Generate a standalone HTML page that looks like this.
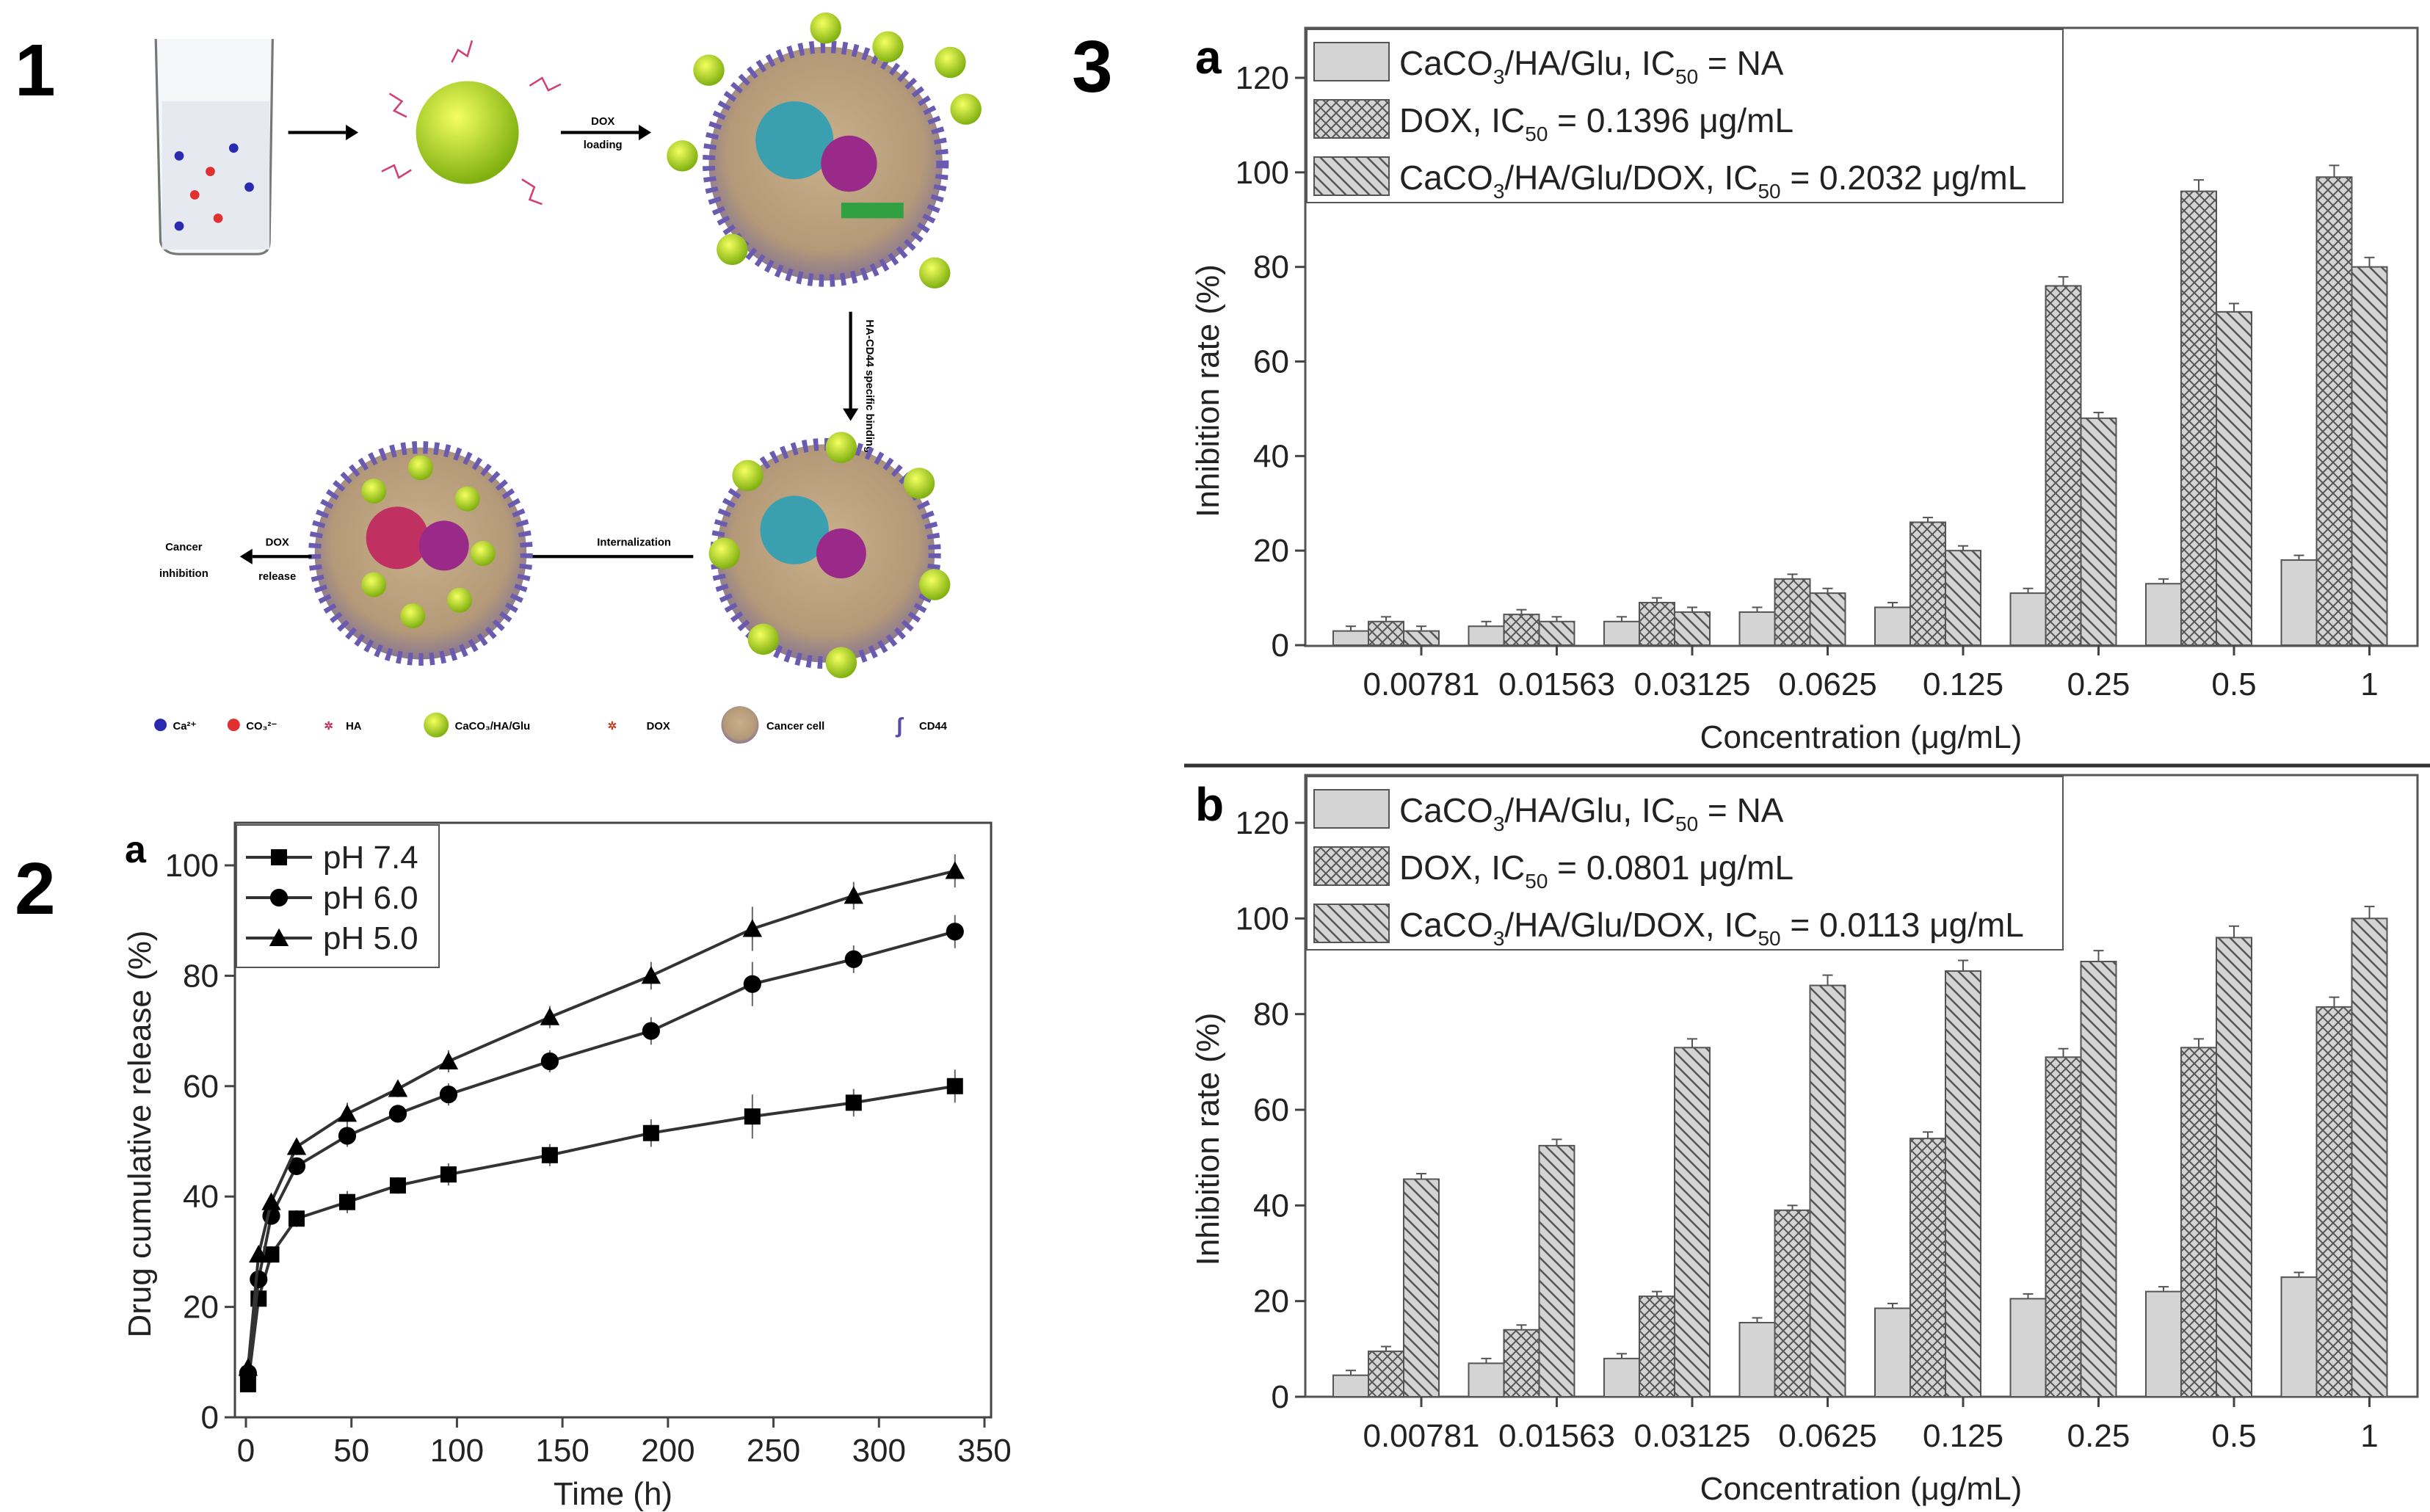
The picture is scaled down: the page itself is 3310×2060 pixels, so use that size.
<!DOCTYPE html>
<html><head><meta charset="utf-8"><style>
html,body{margin:0;padding:0;background:#fff;}
svg{display:block;font-family:"Liberation Sans",Arial,sans-serif;}
</style></head><body>
<svg id="root" width="3310" height="2060" viewBox="0 0 3310 2060" xmlns="http://www.w3.org/2000/svg">
<defs>
<pattern id="cross" width="14" height="14" patternUnits="userSpaceOnUse">
<rect width="14" height="14" fill="#d4d4d4"/>
<path d="M0 0L14 14M14 0L0 14" stroke="#555" stroke-width="2"/>
</pattern>
<pattern id="diag" width="16" height="16" patternUnits="userSpaceOnUse">
<rect width="16" height="16" fill="#d4d4d4"/>
<path d="M-4 -4L20 20M-4 12L4 20M12 -4L20 4" stroke="#555" stroke-width="2.5"/>
</pattern>
<radialGradient id="gball" cx="40%" cy="35%" r="65%"><stop offset="0" stop-color="#f4ff60"/><stop offset="1" stop-color="#7fb010"/></radialGradient>
<radialGradient id="cell" cx="50%" cy="45%" r="60%"><stop offset="0" stop-color="#c9b08a"/><stop offset="0.7" stop-color="#b49a78"/><stop offset="1" stop-color="#7a6a9a"/></radialGradient>
</defs>

<text x="20" y="130" font-size="100" font-weight="bold">1</text>
<text x="20" y="1245" font-size="100" font-weight="bold">2</text>
<text x="1460" y="125" font-size="100" font-weight="bold">3</text>

<g transform="scale(2.122,2.124)">
  <g>
    <path d="M100 25 L103 155 Q105 163 115 163 L165 163 Q173 163 173 155 L175 25" fill="#f4f6f8" stroke="#777" stroke-width="1.5"/>
    <rect x="104" y="65" width="69" height="95" fill="#e6eaf0"/>
    <circle cx="115" cy="100" r="3" fill="#2a2ab0"/><circle cx="135" cy="110" r="3" fill="#e03030"/><circle cx="150" cy="95" r="3" fill="#2a2ab0"/><circle cx="125" cy="125" r="3" fill="#e03030"/><circle cx="160" cy="120" r="3" fill="#2a2ab0"/><circle cx="140" cy="140" r="3" fill="#e03030"/><circle cx="115" cy="145" r="3" fill="#2a2ab0"/>
  </g>
  <path d="M185 85 L222 85" stroke="#000" stroke-width="2"/><path d="M222 80 L230 85 L222 90Z"/>
  <circle cx="300" cy="85" r="33" fill="url(#gball)"/>
  <g stroke="#d04070" stroke-width="1.2" fill="none"><path d="M250 60 l8 5 l-5 6 l8 4"/><path d="M340 55 l8 -5 l4 8 l8 -4"/><path d="M245 110 l8 -4 l3 8 l8 -5"/><path d="M335 115 l8 5 l-3 8 l8 3"/><path d="M290 40 l4 -8 l6 4 l3 -10"/></g>
  <text x="387" y="80" font-size="7" font-weight="bold" text-anchor="middle">DOX</text>
  <path d="M360 85 L410 85" stroke="#000" stroke-width="2"/><path d="M410 80 L418 85 L410 90Z"/>
  <text x="387" y="95" font-size="7" font-weight="bold" text-anchor="middle">loading</text>
  <circle cx="530" cy="105" r="75" fill="url(#cell)" stroke="#6a5ab0" stroke-width="8" stroke-dasharray="3 4"/>
  <circle cx="510" cy="90" r="25" fill="#3aa0b0"/><circle cx="545" cy="105" r="18" fill="#9a2a8a"/><rect x="540" y="130" width="40" height="10" fill="#30a040"/>
  <g fill="url(#gball)"><circle cx="438" cy="100" r="10"/><circle cx="455" cy="45" r="10"/><circle cx="470" cy="160" r="10"/><circle cx="530" cy="18" r="10"/><circle cx="570" cy="30" r="10"/><circle cx="610" cy="40" r="10"/><circle cx="620" cy="70" r="10"/><circle cx="600" cy="175" r="10"/></g>
  <path d="M546 200 L546 262" stroke="#000" stroke-width="2"/><path d="M541 262 L546 270 L551 262Z"/>
  <text x="556" y="205" font-size="7" font-weight="bold" transform="rotate(90 556 205)">HA-CD44 specific binding</text>
  <circle cx="530" cy="355" r="70" fill="url(#cell)" stroke="#6a5ab0" stroke-width="8" stroke-dasharray="3 4"/>
  <circle cx="510" cy="340" r="22" fill="#3aa0b0"/><circle cx="540" cy="355" r="16" fill="#9a2a8a"/>
  <g fill="url(#gball)"><circle cx="465" cy="355" r="10"/><circle cx="480" cy="305" r="10"/><circle cx="540" cy="287" r="10"/><circle cx="590" cy="310" r="10"/><circle cx="600" cy="375" r="10"/><circle cx="540" cy="425" r="10"/><circle cx="490" cy="410" r="10"/></g>
  <text x="407" y="350" font-size="7" font-weight="bold" text-anchor="middle">Internalization</text>
  <path d="M445 357 L307 357" stroke="#000" stroke-width="2"/><path d="M307 352 L299 357 L307 362Z"/>
  <circle cx="270" cy="355" r="68" fill="url(#cell)" stroke="#6a5ab0" stroke-width="8" stroke-dasharray="3 4"/>
  <circle cx="255" cy="345" r="20" fill="#c03060"/><circle cx="285" cy="350" r="16" fill="#9a2a8a"/>
  <g fill="url(#gball)"><circle cx="240" cy="315" r="8"/><circle cx="300" cy="320" r="8"/><circle cx="240" cy="375" r="8"/><circle cx="295" cy="385" r="8"/><circle cx="270" cy="300" r="8"/><circle cx="310" cy="355" r="8"/><circle cx="265" cy="395" r="8"/></g>
  <text x="178" y="350" font-size="7" font-weight="bold" text-anchor="middle">DOX</text>
  <path d="M200 357 L162 357" stroke="#000" stroke-width="2"/><path d="M162 352 L154 357 L162 362Z"/>
  <text x="178" y="372" font-size="7" font-weight="bold" text-anchor="middle">release</text>
  <text x="118" y="353" font-size="7" font-weight="bold" text-anchor="middle">Cancer</text>
  <text x="118" y="370" font-size="7" font-weight="bold" text-anchor="middle">inhibition</text>
  <g font-size="7" font-weight="bold">
    <circle cx="103" cy="465" r="4" fill="#2a2ab0"/><text x="111" y="468">Ca²⁺</text>
    <circle cx="150" cy="465" r="4" fill="#e03030"/><text x="158" y="468">CO₃²⁻</text>
    <text x="208" y="468" fill="#c03060">✲</text><text x="222" y="468">HA</text>
    <circle cx="280" cy="465" r="8" fill="url(#gball)"/><text x="292" y="468">CaCO₃/HA/Glu</text>
    <text x="390" y="468" fill="#c04020">✲</text><text x="415" y="468">DOX</text>
    <circle cx="475" cy="465" r="12" fill="url(#cell)"/><text x="492" y="468">Cancer cell</text>
    <text x="575" y="470" fill="#5a4ab0" font-size="14">ʃ</text><text x="590" y="468">CD44</text>
  </g>
</g>

<line x1="1613" y1="1043" x2="3310" y2="1043" stroke="#333" stroke-width="5"/>

<g id="chart2"></g>
<g id="chart3a"></g>
<g id="chart3b"></g>
</svg>
<script>
const NS="http://www.w3.org/2000/svg";
const times=[1,6,12,24,48,72,96,144,192,240,288,336];
const ph74=[6,21.5,29.5,36,39,42,44,47.5,51.5,54.5,57,60];
const ph60=[8,25,36.5,45.5,51,55,58.5,64.5,70,78.5,83,88];
const ph50=[9,29.5,39,49,55,59.5,64.5,72.5,80,88.5,94.5,99];
const err2=[1,1.5,1.5,1.5,2,1.5,2,2,2.5,4,2.5,3];
const xTicks2=[0,50,100,150,200,250,300,350];
const yTicks2=[0,20,40,60,80,100];
const concLabels=["0.00781","0.01563","0.03125","0.0625","0.125","0.25","0.5","1"];
const aCaco=[3,4,5,7,8,11,13,18];
const aDox=[5,6.5,9,14,26,76,96,99];
const aCombo=[3,5,7,11,20,48,70.5,80];
const bCaco=[4.5,7,8,15.5,18.5,20.5,22,25];
const bDox=[9.5,14,21,39,54,71,73,81.5];
const bCombo=[45.5,52.5,73,86,89,91,96,100];
const yTicks3=[0,20,40,60,80,100,120];
const legA=["0.1396","0.2032"];
const legB=["0.0801","0.0113"];

function el(parent,tag,attrs,text){const e=document.createElementNS(NS,tag);for(const k in attrs)e.setAttribute(k,attrs[k]);if(text!==undefined)e.textContent=text;parent.appendChild(e);return e;}

(function(){
  const g=document.getElementById('chart2');
  const L=320,R=1350,T=1121,B=1931;
  const x=v=>335+(v/350)*(1341-335);
  const y=v=>1931-(v/100)*(1931-1179);
  const frame=el(g,'rect',{x:L,y:T,width:R-L,height:B-T,fill:'none',stroke:'#444','stroke-width':3});
  
  
  xTicks2.forEach(t=>{el(g,'line',{x1:x(t),y1:B,x2:x(t),y2:B+14,stroke:'#444','stroke-width':3});
    const tx=el(g,'text',{x:x(t),y:B+60,'font-size':44,'text-anchor':'middle',fill:'#222'},t);
    
    });
  yTicks2.forEach(t=>{el(g,'line',{x1:L-14,y1:y(t),x2:L,y2:y(t),stroke:'#444','stroke-width':3});
    const tx=el(g,'text',{x:L-22,y:y(t)+15,'font-size':44,'text-anchor':'end',fill:'#222'},t);
    
    });
  const xt=el(g,'text',{x:835,y:2050,'font-size':44,'text-anchor':'middle',fill:'#222'},'Time (h)');
  
  
  const yt=el(g,'text',{x:0,y:0,'font-size':44,'text-anchor':'middle',fill:'#222',transform:'translate(205 1545) rotate(-90)'},'Drug cumulative release (%)');
  
  
  const sub=el(g,'text',{x:170,y:1175,'font-size':52,'font-weight':'bold'},'a');
  
  
  const series=[[ph74,'sq','pH 7.4'],[ph60,'ci','pH 6.0'],[ph50,'tr','pH 5.0']];
  function marker(p,cx,cy,type,s){
    if(type==='sq')return el(p,'rect',{x:cx-s,y:cy-s,width:2*s,height:2*s,fill:'#000'});
    if(type==='ci')return el(p,'circle',{cx:cx,cy:cy,r:s*1.1,fill:'#000'});
    return el(p,'path',{d:`M${cx} ${cy-s*1.2}L${cx+s*1.2} ${cy+s}L${cx-s*1.2} ${cy+s}Z`,fill:'#000'});
  }
  series.forEach(([vals,type,name])=>{
    const sg=el(g,'g',{});
    
    
    el(sg,'polyline',{points:times.map((t,i)=>x(t)+','+y(vals[i])).join(' '),fill:'none',stroke:'#333','stroke-width':4});
    times.forEach((t,i)=>{
      el(sg,'line',{x1:x(t),y1:y(vals[i]+err2[i]),x2:x(t),y2:y(vals[i]-err2[i]),stroke:'#666','stroke-width':2});
      const m=marker(sg,x(t),y(vals[i]),type,11);
      
      
    });
  });
  const lg=el(g,'g',{});
  
  
  el(lg,'rect',{x:322,y:1124,width:276,height:194,fill:'#fff',stroke:'#555','stroke-width':2});
  series.forEach(([v,type,name],i)=>{
    const yy=1168+i*55;
    el(lg,'line',{x1:335,y1:yy,x2:425,y2:yy,stroke:'#333','stroke-width':4});
    marker(lg,380,yy,type,11);
    const tx=el(lg,'text',{x:440,y:yy+15,'font-size':44,fill:'#222'},name);
    
    
  });
})();

function barChart(id,T,B,y0,y120,s1,s2,s3,leg,label){
  const g=document.getElementById(id);
  const L=1778,R=3293;
  const y=v=>y0-(v/120)*(y0-y120);
  const W=184.5, bw=48;
  el(g,'rect',{x:L,y:T,width:R-L,height:B-T,fill:'none',stroke:'#555','stroke-width':3});
  yTicks3.forEach(t=>{el(g,'line',{x1:L-14,y1:y(t),x2:L,y2:y(t),stroke:'#444','stroke-width':3});
    const tx=el(g,'text',{x:L-22,y:y(t)+15,'font-size':44,'text-anchor':'end',fill:'#222'},t);
    
    });
  const fills=['#d4d4d4','url(#cross)','url(#diag)'];
  const data=[s1,s2,s3];
  concLabels.forEach((c,i)=>{
    const gx=L+38+i*W;
    data.forEach((arr,k)=>{
      const bx=gx+k*bw, v=arr[i];
      const r=el(g,'rect',{x:bx,y:y(v),width:bw,height:y(0)-y(v),fill:fills[k],stroke:'#555','stroke-width':2});
      
      
      const e=Math.max(1,v*0.025);
      el(g,'line',{x1:bx+bw/2,y1:y(v+e),x2:bx+bw/2,y2:y(v),stroke:'#555','stroke-width':2});
      el(g,'line',{x1:bx+bw/2-7,y1:y(v+e),x2:bx+bw/2+7,y2:y(v+e),stroke:'#555','stroke-width':2});
    });
    const lx=gx+2.5*bw;
    el(g,'line',{x1:lx,y1:y0,x2:lx,y2:y0+14,stroke:'#444','stroke-width':3});
    const tx=el(g,'text',{x:lx,y:y0+68,'font-size':44,'text-anchor':'middle',fill:'#222'},c);
    
    
  });
  const xt=el(g,'text',{x:2535,y:y0+140,'font-size':44,'text-anchor':'middle',fill:'#222'},'Concentration (μg/mL)');
  
  
  const yt=el(g,'text',{x:0,y:0,'font-size':44,'text-anchor':'middle',fill:'#222',transform:`translate(1660 ${(y0+y120)/2+40}) rotate(-90)`},'Inhibition rate (%)');
  
  
  const sub=el(g,'text',{x:1628,y:T+62,'font-size':64,'font-weight':'bold'},label);
  
  
  const lg=el(g,'g',{});
  
  
  el(lg,'rect',{x:L+2,y:T+2,width:1030,height:236,fill:'#fff',stroke:'#555','stroke-width':2});
  const texts=[['CaCO','3','/HA/Glu, IC','50',' = NA'],['DOX, IC','50',' = '+leg[0]+' μg/mL'],['CaCO','3','/HA/Glu/DOX, IC','50',' = '+leg[1]+' μg/mL']];
  texts.forEach((parts,k)=>{
    const yy=T+20+k*78;
    el(lg,'rect',{x:L+12,y:yy,width:102,height:52,fill:fills[k],stroke:'#555','stroke-width':2});
    const t=el(lg,'text',{x:L+128,y:yy+44,'font-size':46,fill:'#222'});
    
    
    parts.forEach((p,j)=>{
      const isSub=(p==='3'||p==='50');
      el(t,'tspan',isSub?{'font-size':28,dy:12}:{dy:(j>0&&(parts[j-1]==='3'||parts[j-1]==='50'))?-12:0},p);
    });
  });
}
barChart('chart3a',38,880,879,106,aCaco,aDox,aCombo,legA,'a');
barChart('chart3b',1056,1903,1903,1121,bCaco,bDox,bCombo,legB,'b');
</script>
</body></html>
